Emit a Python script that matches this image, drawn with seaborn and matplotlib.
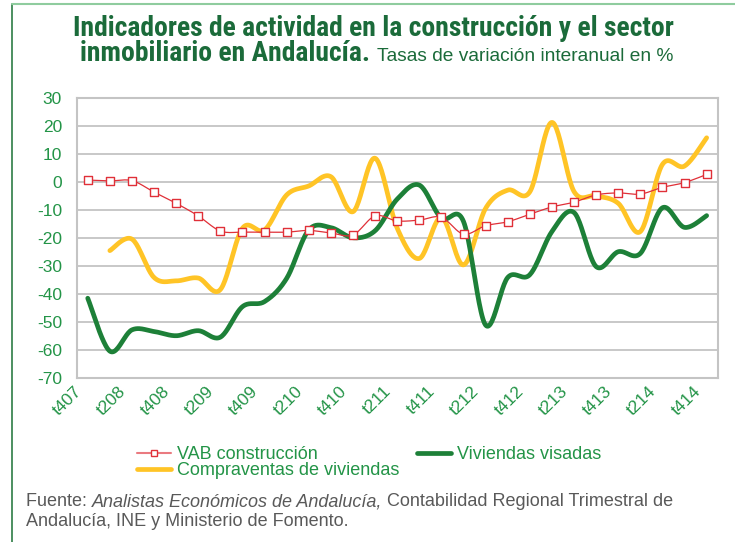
import numpy as np
import pandas as pd
import matplotlib
matplotlib.use("Agg")
import matplotlib.pyplot as plt
from matplotlib.lines import Line2D
from matplotlib import font_manager as fm
import matplotlib.transforms as mtransforms
import seaborn as sns

# ---- data ----
quarters = ["t407", "t108", "t208", "t308", "t408", "t109", "t209", "t309", "t409",
            "t110", "t210", "t310", "t410", "t111", "t211", "t311", "t411",
            "t112", "t212", "t312", "t412", "t113", "t213", "t313", "t413",
            "t114", "t214", "t314", "t414"]
tick_labels = ["t407", "t208", "t408", "t209", "t409", "t210", "t410", "t211",
               "t411", "t212", "t412", "t213", "t413", "t214", "t414"]
y_ticks = [-70, -60, -50, -40, -30, -20, -10, 0, 10, 20, 30]
vab = [0.8, 0.5, 0.6, -3.5, -7.5, -12.0, -17.4, -17.8, -17.8, -17.8, -17.2, -18.1,
       -18.8, -12.0, -13.8, -13.5, -12.5, -18.5, -15.5, -14.1, -11.4, -8.8, -7.1,
       -4.5, -3.8, -4.2, -1.8, -0.1, 2.8]
visadas = [-41.4, -60.3, -52.7, -53.3, -54.8, -53.0, -55.3, -44.4, -42.6, -34.3,
           -17.0, -16.2, -19.8, -17.3, -6.0, -1.0, -12.8, -14.0, -51.0, -34.0,
           -33.0, -17.6, -10.8, -30.1, -24.8, -25.4, -9.1, -16.1, -11.9]
compraventas = [np.nan, -24.4, -20.3, -34.0, -35.2, -34.2, -38.3, -16.4, -17.0,
                -4.5, -1.3, 2.0, -10.5, 8.6, -16.4, -27.2, -12.5, -29.5, -9.3,
                -2.8, -3.4, 21.4, -3.3, -4.8, -7.5, -17.6, 6.4, 5.8, 15.9]

series_names = ["VAB construcción", "Viviendas visadas", "Compraventas de viviendas"]

GREEN_DARK = "#1b6b3a"
GREEN_TXT = "#239447"
C_VAB = "#e03038"
C_VIS = "#1d8038"
C_COM = "#ffc426"


def smooth(xs, ys, n=24):
    """Excel-like smoothed line (Catmull-Rom Bezier) through the data points."""
    xs = np.asarray(xs, float)
    ys = np.asarray(ys, float)
    m = ~np.isnan(ys)
    xs, ys = xs[m], ys[m]
    P = np.column_stack([xs, ys])
    out = []
    for i in range(len(P) - 1):
        p0 = P[i - 1] if i > 0 else P[i]
        p1, p2 = P[i], P[i + 1]
        p3 = P[i + 2] if i + 2 < len(P) else P[i + 1]
        c1 = p1 + (p2 - p0) / 6.0
        c2 = p2 - (p3 - p1) / 6.0
        t = np.linspace(0, 1, n, endpoint=(i == len(P) - 2))[:, None]
        seg = ((1 - t) ** 3) * p1 + 3 * ((1 - t) ** 2) * t * c1 + 3 * (1 - t) * t ** 2 * c2 + t ** 3 * p2
        out.append(seg)
    a = np.vstack(out)
    return a[:, 0], a[:, 1]


sns.set_theme(style="white")
plt.rcParams["font.family"] = ["Liberation Sans", "DejaVu Sans"]
plt.rcParams["axes.unicode_minus"] = False

# pick a condensed family for the title if one is installed
avail = {f.name for f in fm.fontManager.ttflist}
cond = [n for n in ["Liberation Sans Narrow", "Arial Narrow", "Roboto Condensed",
                    "DejaVu Sans Condensed", "Open Sans Condensed", "Noto Sans Condensed"]
        if n in avail]
cond += sorted(n for n in avail if ("Narrow" in n or "Condensed" in n) and n not in cond)
TITLE_FAM = [cond[0], "DejaVu Sans"] if cond else ["Liberation Sans", "DejaVu Sans"]

fig = plt.figure(figsize=(7.35, 5.42), dpi=100)
W, H = 735.0, 542.0
ax = fig.add_axes([76.7 / W, 1 - 378.3 / H, (717.7 - 76.7) / W, (378.3 - 98.3) / H])

idx = np.arange(len(quarters))

sx, sy = smooth(idx, visadas)
sns.lineplot(x=sx, y=sy, ax=ax, color=C_VIS, lw=3.4, sort=False, estimator=None, zorder=3)
cx, cy = smooth(idx, compraventas)
sns.lineplot(x=cx, y=cy, ax=ax, color=C_COM, lw=3.4, sort=False, estimator=None, zorder=2)
vx, vy = smooth(idx, vab, n=12)
sns.lineplot(x=vx, y=vy, ax=ax, color=C_VAB, lw=0.9, sort=False, estimator=None, zorder=4)
df_vab = pd.DataFrame({"x": idx, "y": vab})
sns.scatterplot(data=df_vab, x="x", y="y", ax=ax, marker="s", s=30, facecolor="white",
                edgecolor=C_VAB, linewidth=1.0, zorder=5)

ax.set_xlim(-0.5, len(quarters) - 0.5)
ax.set_ylim(-70, 30)
ax.set_yticks(y_ticks)
ax.set_yticklabels([str(v) for v in y_ticks])
ax.set_xticks(idx[::2])
ax.set_xticklabels(tick_labels, rotation=45, ha="right", va="top", rotation_mode="anchor")
ax.tick_params(axis="y", colors=GREEN_TXT, labelsize=12.5, length=0, pad=10.6)
ax.tick_params(axis="x", colors=GREEN_TXT, labelsize=12.5, length=0, pad=4)
shift = mtransforms.ScaledTranslation(-0.14, 0.0, fig.dpi_scale_trans)
for lab in ax.get_xticklabels():
    lab.set_transform(lab.get_transform() + shift)
ax.set_xlabel("")
ax.set_ylabel("")
ax.grid(axis="y", color="#c4c4c4", lw=1.3)
ax.set_axisbelow(True)
for s in ax.spines.values():
    s.set_visible(True)
    s.set_color("#c4c4c4")
    s.set_linewidth(1.5)

# legend
handles = [
    Line2D([], [], color="#ea7a80", lw=1.5, marker="s", markersize=5, markerfacecolor="white",
           markeredgecolor=C_VAB, markeredgewidth=1.0),
    Line2D([], [], color=C_COM, lw=3.4),
    Line2D([], [], color=C_VIS, lw=3.4),
]
labels = [series_names[0], series_names[2], series_names[1]]
leg = fig.legend(handles, labels, loc="upper left", bbox_to_anchor=(128 / W, 1 - 437 / H),
                 ncol=2, frameon=False, fontsize=13, handlelength=1.9, handletextpad=0.3,
                 columnspacing=1.0, labelspacing=-0.05, borderpad=0)
for t in leg.get_texts():
    t.set_color(GREEN_TXT)

# title
renderer = fig.canvas.get_renderer()
t1 = fig.text(72.7 / W, 1 - 36 / H, "Indicadores de actividad en la construcción y el sector",
              ha="left", va="baseline", fontsize=17, fontweight="bold", color=GREEN_DARK,
              family=TITLE_FAM)
w1 = t1.get_window_extent(renderer).width
tsize = 17.0 * 602.0 / w1
t1.set_fontsize(tsize)
t2 = fig.text(80 / W, 1 - 61 / H, "inmobiliario en Andalucía.", ha="left", va="baseline",
              fontsize=tsize, fontweight="bold", color=GREEN_DARK, family=TITLE_FAM)
bb = t2.get_window_extent(renderer)
fig.text(bb.x1 / W + 7 / W, 1 - 61 / H,
         "Tasas de variación interanual en %", ha="left", va="baseline", fontsize=13.8,
         color=GREEN_DARK)

# source
src_y1 = 1 - 502 / H
GRAY = "#595959"
s1 = fig.text(26 / W, src_y1, "Fuente: ", ha="left", va="center", fontsize=13, color=GRAY)
x = s1.get_window_extent(renderer).x1
s2 = fig.text(x / W, src_y1, "Analistas Económicos de Andalucía,", ha="left",
              va="center", fontsize=13, color=GRAY, style="italic")
x = s2.get_window_extent(renderer).x1
fig.text(x / W, src_y1, " Contabilidad Regional Trimestral de", ha="left",
         va="center", fontsize=13, color=GRAY)
fig.text(26 / W, 1 - 522 / H, "Andalucía, INE y Ministerio de Fomento.", ha="left",
         va="center", fontsize=13, color=GRAY)

# outer frame lines
fig.add_artist(Line2D([11.5 / W, 11.5 / W], [0, 1 - 3.5 / H], color="#2e7d46", lw=1.2,
                      transform=fig.transFigure))
fig.add_artist(Line2D([11.5 / W, 1], [1 - 3.5 / H, 1 - 3.5 / H], color="#8fcc9e", lw=1.5,
                      transform=fig.transFigure))

fig.savefig("out.png", dpi=100)
